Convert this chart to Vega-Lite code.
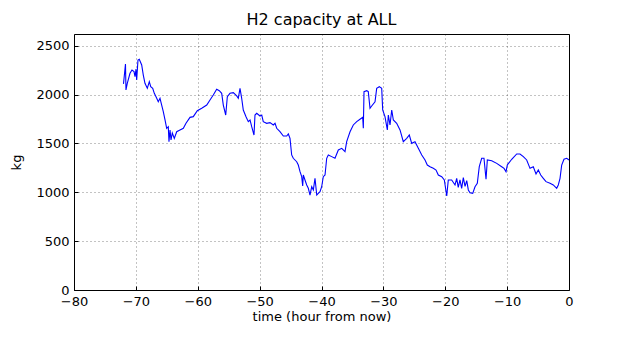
{
  "$schema": "https://vega.github.io/schema/vega-lite/v6.json",
  "width": 495,
  "height": 256,
  "autosize": {"type": "none"},
  "padding": {"left": 74, "top": 34, "right": 52, "bottom": 63},
  "background": "white",
  "title": {"text": "H2 capacity at ALL", "font": "DejaVu Sans", "fontSize": 16, "fontWeight": "normal", "color": "black", "offset": 6, "anchor": "middle"},
  "config": {
    "view": {"stroke": "black", "strokeWidth": 1},
    "axis": {
      "labelFont": "DejaVu Sans", "labelFontSize": 13, "labelColor": "black",
      "titleFont": "DejaVu Sans", "titleFontSize": 13, "titleColor": "black", "titleFontWeight": "normal",
      "domain": false, "tickColor": "black", "tickSize": -4, "tickWidth": 1,
      "grid": true, "gridColor": "black", "gridDash": [1, 3], "gridWidth": 0.6, "gridOpacity": 0.8
    }
  },
  "data": {"values": [
    {"t": -72.0, "v": 2110}, {"t": -71.68, "v": 2313}, {"t": -71.6, "v": 2047}, {"t": -71.39, "v": 2115},
    {"t": -70.95, "v": 2218}, {"t": -70.63, "v": 2252}, {"t": -70.3, "v": 2235}, {"t": -70.14, "v": 2183},
    {"t": -69.98, "v": 2260}, {"t": -69.87, "v": 2150}, {"t": -69.66, "v": 2354}, {"t": -69.45, "v": 2361},
    {"t": -69.06, "v": 2303}, {"t": -68.8, "v": 2200}, {"t": -68.53, "v": 2115}, {"t": -68.15, "v": 2064},
    {"t": -67.83, "v": 2132}, {"t": -67.6, "v": 2081}, {"t": -67.28, "v": 2064}, {"t": -67.02, "v": 2013},
    {"t": -66.63, "v": 1962}, {"t": -66.38, "v": 1927}, {"t": -66.1, "v": 1962}, {"t": -65.83, "v": 1893},
    {"t": -65.57, "v": 1825}, {"t": -65.29, "v": 1740}, {"t": -65.02, "v": 1655}, {"t": -64.76, "v": 1671},
    {"t": -64.65, "v": 1518}, {"t": -64.48, "v": 1638}, {"t": -64.32, "v": 1535}, {"t": -64.11, "v": 1607},
    {"t": -63.79, "v": 1552}, {"t": -63.4, "v": 1620}, {"t": -62.87, "v": 1638}, {"t": -62.33, "v": 1655},
    {"t": -61.9, "v": 1706}, {"t": -61.25, "v": 1767}, {"t": -60.72, "v": 1774}, {"t": -60.07, "v": 1835},
    {"t": -59.36, "v": 1860}, {"t": -58.55, "v": 1893}, {"t": -58.02, "v": 1945}, {"t": -57.49, "v": 1996},
    {"t": -56.94, "v": 2054}, {"t": -56.52, "v": 2040}, {"t": -56.13, "v": 2013}, {"t": -55.87, "v": 1893},
    {"t": -55.48, "v": 1791}, {"t": -55.22, "v": 1979}, {"t": -54.79, "v": 2013}, {"t": -54.25, "v": 2020},
    {"t": -53.7, "v": 1986}, {"t": -53.45, "v": 1962}, {"t": -53.17, "v": 2064}, {"t": -52.9, "v": 1962},
    {"t": -52.64, "v": 1842}, {"t": -52.2, "v": 1774}, {"t": -51.83, "v": 1723}, {"t": -51.55, "v": 1740},
    {"t": -51.28, "v": 1671}, {"t": -50.91, "v": 1586}, {"t": -50.75, "v": 1791}, {"t": -50.47, "v": 1808},
    {"t": -49.94, "v": 1781}, {"t": -49.66, "v": 1791}, {"t": -49.41, "v": 1723}, {"t": -48.86, "v": 1706},
    {"t": -48.32, "v": 1713}, {"t": -47.79, "v": 1689}, {"t": -47.51, "v": 1706}, {"t": -47.24, "v": 1655},
    {"t": -46.71, "v": 1620}, {"t": -46.17, "v": 1576}, {"t": -45.62, "v": 1576}, {"t": -45.36, "v": 1597},
    {"t": -45.09, "v": 1552}, {"t": -44.82, "v": 1382}, {"t": -44.56, "v": 1348}, {"t": -44.01, "v": 1313},
    {"t": -43.75, "v": 1279}, {"t": -43.47, "v": 1211}, {"t": -43.2, "v": 1160}, {"t": -43.04, "v": 1064},
    {"t": -42.94, "v": 1177}, {"t": -42.67, "v": 1126}, {"t": -42.39, "v": 1075}, {"t": -42.13, "v": 1041},
    {"t": -41.86, "v": 972}, {"t": -41.58, "v": 1057}, {"t": -41.32, "v": 1024}, {"t": -41.05, "v": 1143},
    {"t": -40.77, "v": 972}, {"t": -40.52, "v": 989}, {"t": -40.24, "v": 1006}, {"t": -39.97, "v": 1057},
    {"t": -39.71, "v": 1160}, {"t": -39.43, "v": 1177}, {"t": -39.16, "v": 1348}, {"t": -38.9, "v": 1382},
    {"t": -38.35, "v": 1365}, {"t": -37.82, "v": 1348}, {"t": -37.28, "v": 1433}, {"t": -36.73, "v": 1450},
    {"t": -36.2, "v": 1416}, {"t": -35.93, "v": 1518}, {"t": -35.39, "v": 1620}, {"t": -34.86, "v": 1689},
    {"t": -34.31, "v": 1723}, {"t": -33.78, "v": 1747}, {"t": -33.34, "v": 1767}, {"t": -33.24, "v": 1655},
    {"t": -33.13, "v": 2030}, {"t": -32.69, "v": 2040}, {"t": -32.44, "v": 2030}, {"t": -32.16, "v": 1860},
    {"t": -31.89, "v": 1883}, {"t": -31.35, "v": 1927}, {"t": -31.08, "v": 2064}, {"t": -30.66, "v": 2081},
    {"t": -30.27, "v": 2064}, {"t": -30.11, "v": 1842}, {"t": -29.74, "v": 1774}, {"t": -29.36, "v": 1638},
    {"t": -29.2, "v": 1791}, {"t": -28.93, "v": 1689}, {"t": -28.65, "v": 1842}, {"t": -28.39, "v": 1740},
    {"t": -27.85, "v": 1706}, {"t": -27.31, "v": 1638}, {"t": -26.78, "v": 1518}, {"t": -26.23, "v": 1552},
    {"t": -25.81, "v": 1586}, {"t": -25.42, "v": 1501}, {"t": -24.89, "v": 1518}, {"t": -24.35, "v": 1450},
    {"t": -23.8, "v": 1382}, {"t": -23.27, "v": 1331}, {"t": -22.9, "v": 1279}, {"t": -22.46, "v": 1262},
    {"t": -21.93, "v": 1245}, {"t": -21.49, "v": 1228}, {"t": -21.12, "v": 1177}, {"t": -20.57, "v": 1160},
    {"t": -20.15, "v": 1126}, {"t": -19.76, "v": 962}, {"t": -19.51, "v": 1126}, {"t": -18.96, "v": 1126},
    {"t": -18.42, "v": 1075}, {"t": -18.15, "v": 1143}, {"t": -17.9, "v": 1050}, {"t": -17.62, "v": 1126},
    {"t": -17.35, "v": 1040}, {"t": -17.08, "v": 1150}, {"t": -16.8, "v": 1060}, {"t": -16.53, "v": 1120},
    {"t": -16.27, "v": 1024}, {"t": -16.0, "v": 996}, {"t": -15.56, "v": 989}, {"t": -15.19, "v": 1057},
    {"t": -14.82, "v": 1092}, {"t": -14.5, "v": 1262}, {"t": -14.11, "v": 1348}, {"t": -13.74, "v": 1348},
    {"t": -13.41, "v": 1133}, {"t": -13.2, "v": 1331}, {"t": -12.49, "v": 1323}, {"t": -11.68, "v": 1296},
    {"t": -10.88, "v": 1262}, {"t": -10.5, "v": 1245}, {"t": -10.18, "v": 1211}, {"t": -9.97, "v": 1279},
    {"t": -9.26, "v": 1338}, {"t": -8.45, "v": 1392}, {"t": -7.92, "v": 1392}, {"t": -7.38, "v": 1365},
    {"t": -6.84, "v": 1331}, {"t": -6.3, "v": 1245}, {"t": -5.77, "v": 1262}, {"t": -5.33, "v": 1187},
    {"t": -4.96, "v": 1228}, {"t": -4.57, "v": 1177}, {"t": -4.15, "v": 1143}, {"t": -3.72, "v": 1109},
    {"t": -3.07, "v": 1092}, {"t": -2.54, "v": 1075}, {"t": -1.99, "v": 1041}, {"t": -1.73, "v": 1075},
    {"t": -1.45, "v": 1143}, {"t": -1.18, "v": 1279}, {"t": -0.81, "v": 1338}, {"t": -0.37, "v": 1348},
    {"t": 0.0, "v": 1331}
  ]},
  "mark": {"type": "line", "color": "#0000ff", "strokeWidth": 1.1, "clip": true},
  "encoding": {
    "x": {"field": "t", "type": "quantitative", "scale": {"domain": [-80, 0], "nice": false, "zero": false},
      "axis": {"title": "time (hour from now)", "values": [-80, -70, -60, -50, -40, -30, -20, -10, 0], "labelPadding": 9, "titlePadding": 2, "labelExpr": "replace(datum.label, '-', '\u2212')", "labelFlush": false}},
    "y": {"field": "v", "type": "quantitative", "scale": {"domain": [0, 2620], "nice": false},
      "axis": {"title": "kg", "values": [0, 500, 1000, 1500, 2000, 2500], "labelPadding": 9, "titlePadding": 12, "format": "d"}}
  }
}
